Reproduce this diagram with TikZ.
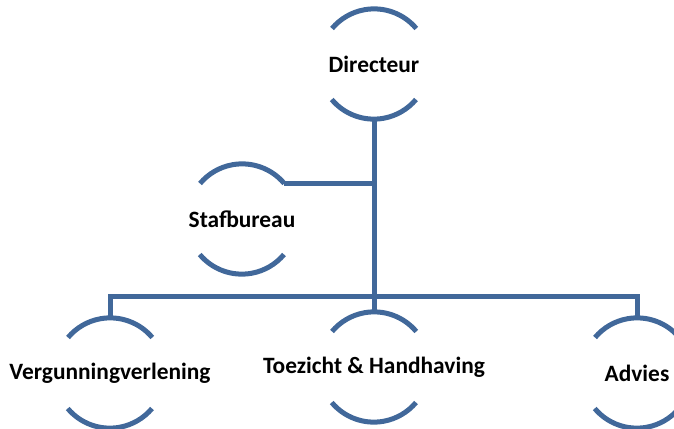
\documentclass[tikz,border=0pt]{standalone}
\usepackage{fontspec}
\setmainfont{Carlito}
\definecolor{orgblue}{RGB}{65,104,154}
\begin{document}
\begin{tikzpicture}[x=1pt,y=-1pt,
  ring/.style={circle,minimum size=110pt,inner sep=0pt,draw=none},
  lbl/.style={font=\bfseries\fontsize{23.4}{27}\selectfont,text=black,inner sep=0pt},
  con/.style={draw=orgblue,line width=5pt}]
\useasboundingbox (0,0) rectangle (674,428);
% rings (invisible), labels at their centres
\node[ring] (d) at (374,64) {};
\node[ring] (s) at (242,219) {};
\node[ring] (v) at (110,373) {};
\node[ring] (t) at (374,367) {};
\node[ring] (a) at (637,373) {};
\node[lbl] (dl) at (d) {Directeur};
\node[lbl] (sl) at (s) {Stafbureau};
\node[lbl] (vl) at (v) {Vergunningverlening};
\node[lbl] (tl) at (t) {Toezicht \& Handhaving};
\node[lbl] (al) at (a) {Advies};
% arcs
\foreach \n in {d,s,v,t,a}{
  \draw[con] (\n.40) arc (-40:-140:55);
  \draw[con] (\n.220) arc (-220:-320:55);
}
% connectors
\coordinate (bus) at (374,296);
\draw[con] (d.south) -- (t.north);
\draw[con] (s.40) -- (s.40 -| d.south);
\draw[con] (v.north) -- (v.north |- bus) -- (a.north |- bus) -- (a.north);
\end{tikzpicture}
\end{document}
